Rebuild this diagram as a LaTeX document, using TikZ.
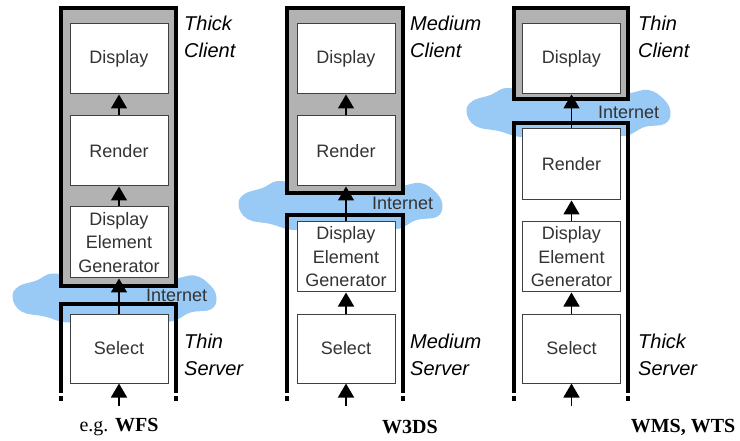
\documentclass[tikz,border=0pt]{standalone}
\usepackage{fontspec}
\setmainfont{Liberation Serif}
\setsansfont{Liberation Sans}
\usetikzlibrary{fit,arrows.meta}
\definecolor{cgrey}{RGB}{178,178,178}
\definecolor{cblue}{RGB}{153,202,246}
\definecolor{ctext}{RGB}{51,51,51}
\tikzset{
    stage/.style={draw=black!75, fill=white, line width=1pt, minimum width=98pt, text width=96pt, align=center, inner sep=0pt, text=ctext, font=\sffamily\fontsize{18}{23.5}\selectfont},
    clientbox/.style={draw=black, fill=cgrey, line width=4pt, inner sep=0pt},
    serverbox/.style={draw=black, line width=4pt},
    netcloud/.pic={
        \fill[cblue] plot[smooth cycle, tension=0.7] coordinates {
            (-102,0) (-96,-11) (-78,-17) (-62,-24) (-38,-20) (-16,-25) (8,-21) (34,-25) (58,-19) (80,-22) (96,-12)
            (102,1) (96,12) (76,15) (56,24) (30,19) (6,25) (-20,20) (-46,25) (-70,19) (-93,14)};
    },
    flow/.style={line width=1.5pt, arrows={-Triangle[length=14pt,width=16pt]}},
    role/.style={anchor=west, align=left, inner sep=0pt, font=\sffamily\itshape\fontsize{20}{27}\selectfont},
    netlabel/.style={anchor=west, inner sep=0pt, text=ctext, font=\sffamily\fontsize{18}{20}\selectfont},
    service/.style={inner sep=0pt, font=\fontsize{20}{24}\selectfont},
}

\begin{document}
\begin{tikzpicture}[x=1pt, y=-1pt]
    \useasboundingbox (0,0) rectangle (740,441);

    % clouds
    \pic (cloudA) at (114.5,297.5) {netcloud};
    \pic (cloudB) at (340.5,205) {netcloud};
    \pic (cloudC) at (568.5,112) {netcloud};

    % servers
    \draw[serverbox] (61,393) -- (61,304) -- (176,304) -- (176,393);
    \draw[serverbox] (287,393) -- (287,215) -- (403,215) -- (403,393);
    \draw[serverbox] (514,393) -- (514,123) -- (628,123) -- (628,393);
    \foreach \x in {61,176,287,403,514,628}
        \draw[line width=4pt] (\x,396) -- (\x,401);

    % clients
    \node[clientbox, fit={(61,8) (176,286)}] (clientA) {};
    \node[clientbox, fit={(287,8) (403,193)}] (clientB) {};
    \node[clientbox, fit={(514,8) (628,99)}] (clientC) {};

    % thick client
    \node[stage, minimum height=70pt] (displayA) at (119,59) {Display};
    \node[stage, minimum height=70pt] (renderA) at (119,151) {Render};
    \node[stage, minimum height=71pt] (generatorA) at (119,242.5) {Display\\Element\\Generator};
    \node[stage, minimum height=69pt] (selectA) at (119,348.5) {Select};
    \coordinate (inA) at (119,406);

    % medium client
    \node[stage, minimum height=70pt] (displayB) at (346,59) {Display};
    \node[stage, minimum height=70pt] (renderB) at (346,151) {Render};
    \node[stage, minimum height=70pt] (generatorB) at (346,257) {Display\\Element\\Generator};
    \node[stage, minimum height=69pt] (selectB) at (346,348.5) {Select};
    \coordinate (inB) at (346,406);

    % thin client
    \node[stage, minimum height=70pt] (displayC) at (571.5,59) {Display};
    \node[stage, minimum height=71pt] (renderC) at (571.5,164.5) {Render};
    \node[stage, minimum height=70pt] (generatorC) at (571.5,257) {Display\\Element\\Generator};
    \node[stage, minimum height=69pt] (selectC) at (571.5,348.5) {Select};
    \coordinate (inC) at (571.5,406);

    \draw[flow] (renderA.north) -- (displayA.south);
    \draw[flow] (generatorA.north) -- (renderA.south);
    \draw[flow] (selectA.north) -- (generatorA.south);
    \draw[flow] (inA) -- (selectA.south);

    \draw[flow] (renderB.north) -- (displayB.south);
    \draw[flow] (generatorB.north) -- (renderB.south);
    \draw[flow] (selectB.north) -- (generatorB.south);
    \draw[flow] (inB) -- (selectB.south);

    \draw[flow] (renderC.north) -- (displayC.south);
    \draw[flow] (generatorC.north) -- (renderC.south);
    \draw[flow] (selectC.north) -- (generatorC.south);
    \draw[flow] (inC) -- (selectC.south);

    \node[netlabel] (internetA) at (146,295.5) {Internet};
    \node[netlabel] (internetB) at (372,203) {Internet};
    \node[netlabel] (internetC) at (598,112) {Internet};

    \node[role] (clientLabelA) at (184,36.5) {Thick\\Client};
    \node[role] (serverLabelA) at (184,355) {Thin\\Server};
    \node[role] (clientLabelB) at (410,36.5) {Medium\\Client};
    \node[role] (serverLabelB) at (410,355) {Medium\\Server};
    \node[role] (clientLabelC) at (638,36.5) {Thin\\Client};
    \node[role] (serverLabelC) at (638,355) {Thick\\Server};

    \node[service] (serviceA) at (119,427) {e.g. \textbf{WFS}};
    \node[service] (serviceB) at (410,427) {\textbf{W3DS}};
    \node[service] (serviceC) at (683,427) {\textbf{WMS, WTS}};
\end{tikzpicture}
\end{document}
